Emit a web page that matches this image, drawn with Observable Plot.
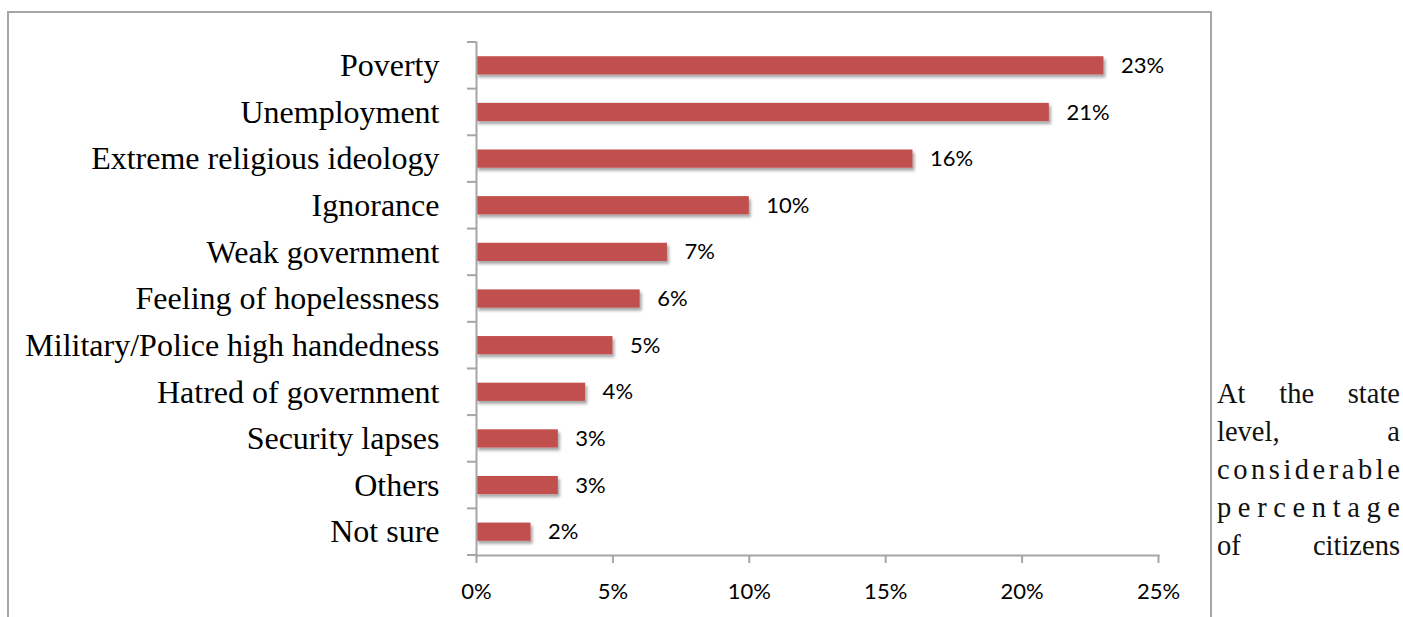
<!DOCTYPE html>
<html>
<head>
<meta charset="utf-8">
<script src="https://cdn.jsdelivr.net/npm/d3@7"></script>
<script src="https://cdn.jsdelivr.net/npm/@observablehq/plot@0.6"></script>
<style>
  html, body { margin: 0; padding: 0; background: #fff; }
  #wrap { position: relative; width: 1403px; height: 617px; overflow: hidden; }
  #frame { position: absolute; left: 7px; top: 11px; width: 1201px; height: 700px; border: 2px solid #a6a6a6; }
  #chart { position: absolute; left: 0; top: 0; }
  #side { position: absolute; left: 1217px; top: 375px; width: 183px;
          font-family: "Liberation Serif", serif; font-size: 28.5px; line-height: 38px; color: #111; }
  #side .ln { display: flex; justify-content: space-between; height: 38px; white-space: nowrap; }
</style>
</head>
<body>
<div id="wrap">
  <div id="frame"></div>
  <div id="chart"></div>
  <div id="side"></div>
</div>
<script>
const categories = ["Poverty", "Unemployment", "Extreme religious ideology", "Ignorance", "Weak government",
  "Feeling of hopelessness", "Military/Police high handedness", "Hatred of government", "Security lapses",
  "Others", "Not sure"];
const values = [23, 21, 16, 10, 7, 6, 5, 4, 3, 3, 2];
const xTicks = [0, 5, 10, 15, 20, 25];
const sideLines = ["At the state", "level, a", "considerable", "percentage", "of citizens"];

const data = categories.map((c, i) => ({category: c, value: values[i]}));
const grey = "#a6a6a6";

function boundaryTicks(index, scales, values, dimensions) {
  const y = scales.y;
  const n = categories.length;
  const plotH = dimensions.height - dimensions.marginTop - dimensions.marginBottom;
  const step = (y.step ? y.step() : plotH / n);
  const bw = (y.bandwidth ? y.bandwidth() : step * 0.39);
  const g = d3.create("svg:g");
  const x0 = dimensions.marginLeft;
  const ys = categories.map(c => y(c) - (step - bw) / 2);
  ys.push(ys[ys.length - 1] + step);
  for (const yy of ys) {
    g.append("line").attr("x1", x0 - 9).attr("x2", x0).attr("y1", yy).attr("y2", yy)
      .attr("stroke", grey).attr("stroke-width", 2);
  }
  return g.node();
}

const plot = Plot.plot({
  width: 1215,
  height: 617,
  marginLeft: 476,
  marginRight: 57,
  marginTop: 42,
  marginBottom: 62,
  style: {background: "transparent", overflow: "visible"},
  x: {domain: [0, 25]},
  y: {domain: categories, paddingInner: 0.61, paddingOuter: 0.305, round: false},
  marks: [
    Plot.barX(data, {x: "value", y: "category", fill: "#C0504D"}),
    Plot.frame({anchor: "left", stroke: grey, strokeWidth: 2}),
    Plot.frame({anchor: "bottom", stroke: grey, strokeWidth: 2}),
    boundaryTicks,
    Plot.axisY({tickSize: 0, tickPadding: 37, fontSize: 32, fontFamily: "Liberation Serif", fill: "#000", label: null}),
    Plot.axisX({ticks: xTicks, tickFormat: d => d + "%", tickSize: 8, tickPadding: 19.5, stroke: grey, strokeWidth: 2,
      fontSize: 22, fontFamily: "Lato", fill: "#000", label: null}),
    Plot.text(data, {x: "value", y: "category", text: d => d.value + "%", dx: 17, textAnchor: "start",
      fontSize: 22, fontFamily: "Lato", fill: "#000"})
  ]
});

// soft drop shadow on the bars, like the original
const svg = d3.select(plot);
const defs = svg.insert("defs", ":first-child");
const f = defs.append("filter").attr("id", "barShadow").attr("x", "-5%").attr("y", "-50%").attr("width", "115%").attr("height", "220%");
f.append("feDropShadow").attr("dx", 2).attr("dy", 3).attr("stdDeviation", 1.8)
  .attr("flood-color", "#000").attr("flood-opacity", 0.35);
svg.selectAll('g[aria-label="bar"]').attr("filter", "url(#barShadow)");

document.getElementById("chart").appendChild(plot);

const side = document.getElementById("side");
for (const line of sideLines) {
  const div = document.createElement("div");
  div.className = "ln";
  const parts = line.includes(" ") ? line.split(" ") : line.split("");
  for (const p of parts) {
    const s = document.createElement("span");
    s.textContent = p;
    div.appendChild(s);
  }
  side.appendChild(div);
}
</script>
</body>
</html>
